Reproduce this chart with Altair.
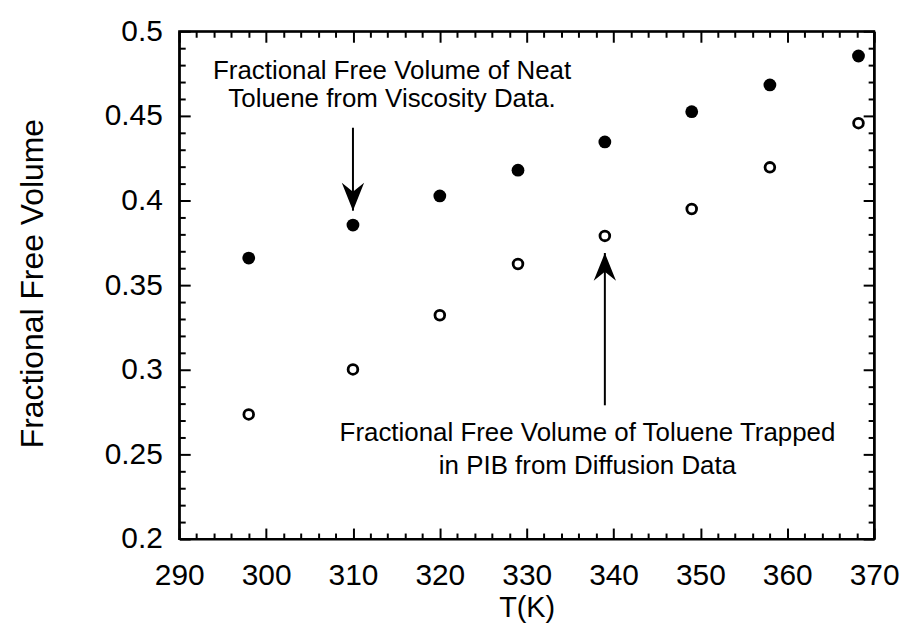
import altair as alt
import pandas as pd

# ---- data ----
T_neat = [298, 310, 320, 329, 339, 349, 358, 368.2]
ffv_neat = [0.366, 0.3855, 0.4027, 0.4179, 0.4346, 0.4525, 0.4683, 0.4854]
T_pib = [298, 310, 320, 329, 339, 349, 358, 368.2]
ffv_pib = [0.2736, 0.3002, 0.3322, 0.3625, 0.3791, 0.395, 0.4196, 0.4457]

x_major = [290, 300, 310, 320, 330, 340, 350, 360, 370]
x_minor = [v for v in range(290, 371, 2) if v % 10 != 0]
y_major = [0.2, 0.25, 0.3, 0.35, 0.4, 0.45, 0.5]
y_minor = [round(0.2 + 0.01 * i, 2) for i in range(31) if i % 5 != 0]

ann_text = ["Fractional Free Volume of Neat", "Toluene from Viscosity Data.",
            "Fractional Free Volume of Toluene Trapped", "in PIB from Diffusion Data"]
ann_x = [314.5, 314.5, 337, 337]
ann_y = [0.4767, 0.4602, 0.2625, 0.243]

arrow_x = [310, 339]
arrow_from = [0.443, 0.279]
arrow_to = [0.394, 0.369]
arrow_dir = ["down", "up"]

FONT = "Liberation Sans"
W, H = 698, 510

neat = pd.DataFrame({"T": T_neat, "ffv": ffv_neat})
pib = pd.DataFrame({"T": T_pib, "ffv": ffv_pib})
ann = pd.DataFrame({"T": ann_x, "ffv": ann_y, "text": ann_text})
arr = pd.DataFrame({"T": arrow_x, "y1": arrow_from, "y2": arrow_to, "dir": arrow_dir})

xs = alt.Scale(domain=[290, 370], nice=False, zero=False)
ys = alt.Scale(domain=[0.2, 0.5], nice=False, zero=False)

def X(**kw):
    return alt.X("T:Q", scale=xs, **kw)

def Y(field="ffv:Q", **kw):
    return alt.Y(field, scale=ys, **kw)

FRAME = dict(domain=True, domainColor="black", domainWidth=2.2)

layers = []

# main axes with labels and titles (their domain lines draw the left and bottom frame)
layers.append(
    alt.Chart(neat).mark_circle(size=165, color="black", opacity=1).encode(
        x=X(axis=alt.Axis(values=x_major, ticks=False, tickSize=0, grid=False, **FRAME,
                          labelFlush=False, labelOverlap=False,
                          labelFontSize=30, labelFont=FONT, labelColor="black", labelPadding=22,
                          title="T(K)", titleFont=FONT, titleFontSize=29, titleFontWeight="normal",
                          titleColor="black", titleY=55, titleBaseline="top")),
        y=Y(axis=alt.Axis(values=y_major, format="~g", ticks=False, tickSize=0, grid=False, **FRAME,
                          labelFlush=False, labelOverlap=False,
                          labelFontSize=30, labelFont=FONT, labelColor="black", labelPadding=17,
                          title="Fractional Free Volume", titleFont=FONT, titleFontSize=32,
                          titleFontWeight="normal", titleColor="black", titleX=-130, titleY=253)),
    )
)

layers.append(
    alt.Chart(pib).mark_point(shape="circle", size=95, filled=False, color="black",
                              strokeWidth=2.8, opacity=1).encode(
        x=X(axis=None), y=Y(axis=None)
    )
)

# top and right frame lines
layers.append(
    alt.Chart(neat).mark_point(opacity=0).encode(
        x=X(axis=alt.Axis(orient="top", ticks=False, labels=False, grid=False, title=None, **FRAME)),
        y=Y(axis=alt.Axis(orient="right", ticks=False, labels=False, grid=False, title=None, **FRAME)),
    )
)

# tick axes on four sides (ticks pointing inward)
for orient in ["bottom", "top"]:
    for vals, size in [(x_major, 11), (x_minor, 6)]:
        layers.append(
            alt.Chart(neat).mark_point(opacity=0).encode(
                x=X(axis=alt.Axis(orient=orient, values=vals, tickSize=size, offset=-size,
                                  domain=False, labels=False, grid=False, title=None,
                                  tickColor="black", tickWidth=2)),
                y=Y(axis=None),
            )
        )
for orient in ["left", "right"]:
    for vals, size in [(y_major, 11), (y_minor, 6)]:
        layers.append(
            alt.Chart(neat).mark_point(opacity=0).encode(
                x=X(axis=None),
                y=Y(axis=alt.Axis(orient=orient, values=vals, tickSize=size, offset=-size,
                                  domain=False, labels=False, grid=False, title=None,
                                  tickColor="black", tickWidth=2)),
            )
        )

# annotation text
layers.append(
    alt.Chart(ann).mark_text(font=FONT, fontSize=26, color="black", align="center",
                             baseline="middle").encode(
        x=X(axis=None), y=Y(axis=None), text="text:N"
    )
)

# arrows
layers.append(
    alt.Chart(arr).mark_rule(color="black", strokeWidth=2).encode(
        x=X(axis=None), y=Y("y1:Q", axis=None), y2="y2:Q"
    )
)
down_path = "M0,0 L-0.8,-2 L0,-1.35 L0.8,-2 Z"
up_path = "M0,0 L-0.8,2 L0,1.35 L0.8,2 Z"
layers.append(
    alt.Chart(arr).transform_filter(alt.datum.dir == "down").mark_point(
        shape=down_path, size=784, filled=True, color="black", opacity=1, strokeWidth=0).encode(
        x=X(axis=None), y=Y("y2:Q", axis=None)
    )
)
layers.append(
    alt.Chart(arr).transform_filter(alt.datum.dir == "up").mark_point(
        shape=up_path, size=784, filled=True, color="black", opacity=1, strokeWidth=0).encode(
        x=X(axis=None), y=Y("y2:Q", axis=None)
    )
)

chart = alt.layer(*layers).resolve_axis(x="independent", y="independent").properties(
    width=W, height=H,
    autosize=alt.AutoSizeParams(type="none"),
    padding={"left": 172, "top": 22, "right": 28, "bottom": 84},
    background="white",
).configure_view(stroke="black", strokeWidth=2.2)

chart.save("out.html", embed_options={"renderer": "svg", "actions": False})
